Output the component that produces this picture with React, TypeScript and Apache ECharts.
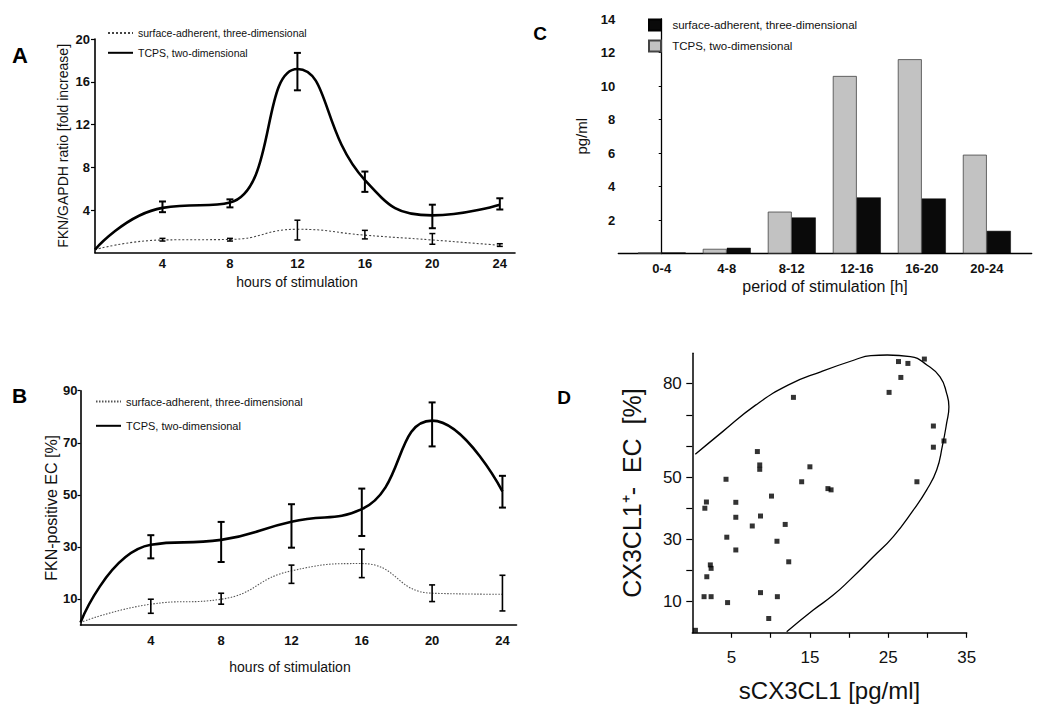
import React, { useEffect, useRef } from "react";
import * as echarts from "echarts";

// ---------- data ----------
const hours = [0, 4, 8, 12, 16, 20, 24];
const errHours = [4, 8, 12, 16, 20, 24];
const hourTicks = [4, 8, 12, 16, 20, 24];

// Panel A: FKN/GAPDH ratio [fold increase]
const aTcps = [0.3, 4.2, 4.7, 17.2, 6.8, 3.5, 4.5];
const aTcpsLow = [3.8, 4.25, 15.2, 5.7, 2.3, 4.05];
const aTcpsHigh = [4.8, 5.0, 18.7, 7.6, 4.5, 5.1];
const aSurf = [0.3, 1.2, 1.25, 2.2, 1.65, 1.2, 0.7];
const aSurfLow = [1.1, 1.1, 1.2, 1.3, 0.8, 0.6];
const aSurfHigh = [1.35, 1.35, 3.05, 2.1, 1.8, 0.85];
const aYTicks = [4, 8, 12, 16, 20];

// Panel B: FKN-positive EC [%]
const bTcps = [1, 30.8, 32.7, 39.7, 44.5, 78.5, 51.3];
const bTcpsLow = [25.6, 24.2, 29.7, 34.2, 68.6, 45.1];
const bTcpsHigh = [34.5, 39.6, 46.4, 52.4, 85.5, 57.3];
const bSurf = [1, 8, 9.9, 20.8, 23.6, 12.2, 11.8];
const bSurfLow = [4.5, 8, 16, 18.2, 9, 5.4];
const bSurfHigh = [9.9, 12.2, 23, 29.1, 15.4, 19.1];
const bYTicks = [10, 30, 50, 70, 90];

// Panel C: pg/ml per period
const periods = ["0-4", "4-8", "8-12", "12-16", "16-20", "20-24"];
const cTcps = [0.06, 0.28, 2.5, 10.6, 11.6, 5.9];
const cSurf = [0.06, 0.34, 2.15, 3.35, 3.28, 1.35];
const cYTicks = [2, 4, 6, 8, 10, 12, 14];

// Panel D: scatter sCX3CL1 vs CX3CL1+ EC
const dX = [0.4, 1.6, 1.8, 1.85, 1.5, 2.4, 2.3, 2.4, 4.3, 4.4, 4.5, 5.55, 5.55, 5.55, 7.65, 8.3, 8.6, 8.6, 8.7, 8.7, 9.75, 10.1, 10.8, 10.85, 11.85, 12.3, 12.9, 13.95, 15.0, 17.3, 17.7, 25.1, 26.3, 26.6, 27.5, 29.6, 28.65, 30.75, 30.75, 32.1];
const dY = [0.8, 40, 42, 18, 11.6, 11.6, 21.8, 20.7, 49.3, 30.7, 9.7, 41.9, 37.1, 26.6, 34.3, 58.2, 53.9, 52.5, 37.5, 12.9, 4.6, 43.9, 29.4, 11.6, 34.8, 22.8, 75.6, 48.5, 53.3, 46.3, 45.9, 77.2, 87.1, 82, 86.5, 87.9, 48.5, 66.4, 59.6, 61.6];
// ellipse outline
const ellX = [0.38, 3.87, 8.07, 12.27, 16.47, 20.67, 22.77, 24.87, 27.82, 29.92, 31.6, 32.44, 32.73, 32.44, 31.9, 31.17, 29.9, 28.19, 25.64, 23.09, 20.11, 17.98, 15.43, 12.04];
const ellY = [57.3, 64.6, 73.1, 79.6, 83.9, 87.6, 89.0, 89.2, 88.7, 86.0, 82.2, 76.9, 72.6, 67.3, 60.0, 52.3, 45.9, 39.4, 30.9, 24.4, 17.0, 12.1, 7.3, 0.35];
const dXTicks = [5, 10, 15, 20, 25, 30, 35];
const dXLabels = [5, 15, 25, 35];
const dYTicks = [10, 20, 30, 40, 50, 60, 70, 80];
const dYLabels = [10, 30, 50, 80];

const legendNames: Record<string, string> = {
  A3d: "surface-adherent, three-dimensional",
  A2d: "TCPS, two-dimensional",
  B3d: "surface-adherent, three-dimensional",
  B2d: "TCPS, two-dimensional",
  C3d: "  surface-adherent, three-dimensional",
  C2d: "  TCPS, two-dimensional",
};

const FONT = '"Liberation Sans", Arial, Helvetica, sans-serif';
const INK = "#111";

function pairs(xs: number[], ys: number[]) {
  return xs.map((x, i) => [x, ys[i]]);
}
function errData(xs: number[], lo: number[], hi: number[]) {
  return xs.map((x, i) => [x, lo[i], hi[i]]);
}
function errSeries(idx: number, data: number[][], lw: number, cap: number) {
  return {
    type: "custom",
    xAxisIndex: idx,
    yAxisIndex: idx,
    data,
    encode: { x: 0, y: [1, 2] },
    z: 5,
    renderItem: (params: any, api: any) => {
      const x = api.value(0);
      const p1 = api.coord([x, api.value(1)]);
      const p2 = api.coord([x, api.value(2)]);
      const st = { stroke: "#000", lineWidth: lw };
      return {
        type: "group",
        children: [
          { type: "line", shape: { x1: p1[0], y1: p1[1], x2: p2[0], y2: p2[1] }, style: st },
          { type: "line", shape: { x1: p1[0] - cap, y1: p1[1], x2: p1[0] + cap, y2: p1[1] }, style: st },
          { type: "line", shape: { x1: p2[0] - cap, y1: p2[1], x2: p2[0] + cap, y2: p2[1] }, style: st },
        ],
      };
    },
  };
}

function hoursAxis(idx: number, max: number, labelMargin: number, nameGap: number, namePad: number) {
  return {
    type: "value",
    gridIndex: idx,
    min: 0,
    max,
    interval: 4,
    splitLine: { show: false },
    axisLine: { show: true, lineStyle: { color: "#000", width: 1.6 } },
    axisTick: { show: false },
    axisLabel: {
      customValues: hourTicks,
      margin: labelMargin,
      color: INK,
      fontFamily: FONT,
      fontSize: 13,
      fontWeight: "bold",
    },
    name: "hours of stimulation",
    nameLocation: "middle",
    nameGap,
    nameTextStyle: { color: INK, fontFamily: FONT, fontSize: 14, padding: [0, namePad, 0, 0] },
  };
}

export default function App() {
  const ref = useRef<HTMLDivElement>(null);

  useEffect(() => {
    if (!ref.current) return;
    const chart = echarts.init(ref.current, undefined, { renderer: "svg" });

    const option: any = {
      animation: false,
      backgroundColor: "#fff",
      textStyle: { fontFamily: FONT },
      grid: [
        { left: 95, top: 39, width: 420, height: 213.8, outerBoundsMode: "none", containLabel: false },
        { left: 80.5, top: 390.7, width: 436, height: 234.3, outerBoundsMode: "none", containLabel: false },
        { left: 618.3, top: 19, width: 413.4, height: 234.5, outerBoundsMode: "none", containLabel: false },
        { left: 692.3, top: 353.3, width: 274.4, height: 279.5, outerBoundsMode: "none", containLabel: false },
      ],
      xAxis: [
        hoursAxis(0, 24.9, 4.5, 22, 16),
        hoursAxis(1, 24.8, 8.5, 35, 17),
        {
          type: "value",
          gridIndex: 2,
          min: -0.668,
          max: 5.69,
          splitLine: { show: false },
          axisLine: { show: true, lineStyle: { color: "#000", width: 1.3 } },
          axisTick: { show: false },
          axisLabel: {
            customValues: [0, 1, 2, 3, 4, 5],
            formatter: (v: number) => periods[Math.round(v)] ?? "",
            margin: 8,
            color: INK,
            fontFamily: FONT,
            fontSize: 13,
            fontWeight: "bold",
          },
          name: "period of stimulation [h]",
          nameLocation: "middle",
          nameGap: 25,
          nameTextStyle: { color: INK, fontFamily: FONT, fontSize: 16 },
        },
        {
          type: "value",
          gridIndex: 3,
          min: 0,
          max: 35,
          interval: 5,
          splitLine: { show: false },
          axisLine: { show: true, lineStyle: { color: "#000", width: 1.5 } },
          axisTick: { show: true, customValues: dXTicks, length: 5, lineStyle: { color: "#000", width: 1.2 } },
          axisLabel: {
            customValues: dXLabels,
            margin: 16,
            color: INK,
            fontFamily: FONT,
            fontSize: 17,
          },
          name: "sCX3CL1 [pg/ml]",
          nameLocation: "middle",
          nameGap: 46,
          nameTextStyle: { color: INK, fontFamily: FONT, fontSize: 24 },
        },
      ],
      yAxis: [
        {
          type: "value",
          gridIndex: 0,
          min: 0,
          max: 20,
          interval: 4,
          splitLine: { show: false },
          axisLine: { show: true, lineStyle: { color: "#000", width: 1.6 } },
          axisTick: { show: true, customValues: aYTicks, length: 4, lineStyle: { color: "#000", width: 1.2 } },
          axisLabel: {
            customValues: aYTicks,
            margin: 5,
            color: INK,
            fontFamily: FONT,
            fontSize: 13,
            fontWeight: "bold",
          },
          name: "FKN/GAPDH ratio [fold increase]",
          nameLocation: "middle",
          nameGap: 25,
          nameTextStyle: { color: INK, fontFamily: FONT, fontSize: 14 },
        },
        {
          type: "value",
          gridIndex: 1,
          min: 0,
          max: 90,
          interval: 10,
          splitLine: { show: false },
          axisLine: { show: true, lineStyle: { color: "#000", width: 1.6 } },
          axisTick: { show: true, customValues: bYTicks, length: 3, lineStyle: { color: "#000", width: 1.2 } },
          axisLabel: {
            customValues: bYTicks,
            margin: 3,
            color: INK,
            fontFamily: FONT,
            fontSize: 13,
            fontWeight: "bold",
          },
          name: "FKN-positive EC [%]",
          nameLocation: "middle",
          nameGap: 17.5,
          nameTextStyle: { color: INK, fontFamily: FONT, fontSize: 16 },
        },
        {
          type: "value",
          gridIndex: 2,
          min: 0,
          max: 14,
          interval: 2,
          splitLine: { show: false },
          axisLine: { show: true, lineStyle: { color: "#000", width: 1.3 } },
          axisTick: { show: true, customValues: cYTicks, length: 3, lineStyle: { color: "#000", width: 1 } },
          axisLabel: {
            customValues: cYTicks,
            margin: 3,
            color: INK,
            fontFamily: FONT,
            fontSize: 13,
            fontWeight: "bold",
          },
          name: "pg/ml",
          nameLocation: "middle",
          nameGap: 29,
          nameTextStyle: { color: INK, fontFamily: FONT, fontSize: 15 },
        },
        {
          type: "value",
          gridIndex: 3,
          min: 0,
          max: 89.75,
          splitLine: { show: false },
          axisLine: { show: true, lineStyle: { color: "#000", width: 1.5 } },
          axisTick: { show: true, customValues: dYTicks, length: 6, lineStyle: { color: "#000", width: 1.2 } },
          axisLabel: {
            customValues: dYLabels,
            margin: 10.5,
            color: INK,
            fontFamily: FONT,
            fontSize: 17,
          },
          name: "CX3CL1\u207A-  EC  [%]",
          nameLocation: "middle",
          nameGap: 48,
          nameTextStyle: { color: INK, fontFamily: FONT, fontSize: 25 },
        },
      ],
      legend: [
        {
          data: ["A3d", "A2d"],
          left: 107,
          top: 27.5,
          padding: 0,
          orient: "vertical",
          itemWidth: 25,
          itemHeight: 14,
          itemGap: 8.5,
          selectedMode: false,
          itemStyle: { opacity: 0 },
          formatter: (n: string) => legendNames[n],
          textStyle: { color: INK, fontFamily: FONT, fontSize: 10.5 },
        },
        {
          data: ["B3d", "B2d"],
          left: 95,
          top: 396,
          padding: 0,
          orient: "vertical",
          itemWidth: 25,
          itemHeight: 14,
          itemGap: 13,
          selectedMode: false,
          itemStyle: { opacity: 0 },
          formatter: (n: string) => legendNames[n],
          textStyle: { color: INK, fontFamily: FONT, fontSize: 11 },
        },
        {
          data: [
            { name: "C3d", icon: "rect" },
            { name: "C2d", icon: "rect" },
          ],
          left: 648,
          top: 18.5,
          padding: 0,
          orient: "vertical",
          itemWidth: 12,
          itemHeight: 11,
          itemGap: 8,
          selectedMode: false,
          formatter: (n: string) => legendNames[n],
          textStyle: { color: INK, fontFamily: FONT, fontSize: 11.5 },
        },
      ],
      series: [
        // Panel A
        {
          name: "A3d",
          type: "line",
          xAxisIndex: 0,
          yAxisIndex: 0,
          data: pairs(hours, aSurf),
          smooth: 0.5,
          symbol: "none",
          lineStyle: { color: "#444", width: 1.1, type: [2, 2] },
          itemStyle: { color: "#444" },
        },
        {
          name: "A2d",
          type: "line",
          xAxisIndex: 0,
          yAxisIndex: 0,
          data: pairs(hours, aTcps),
          smooth: 0.5,
          symbol: "none",
          lineStyle: { color: "#000", width: 2.6 },
          itemStyle: { color: "#000" },
        },
        errSeries(0, errData(errHours, aSurfLow, aSurfHigh), 1.5, 3),
        errSeries(0, errData(errHours, aTcpsLow, aTcpsHigh), 2, 3.5),
        // Panel B
        {
          name: "B3d",
          type: "line",
          xAxisIndex: 1,
          yAxisIndex: 1,
          data: pairs(hours, bSurf),
          smooth: 0.5,
          symbol: "none",
          lineStyle: { color: "#555", width: 1.1, type: [1.5, 1.5] },
          itemStyle: { color: "#555" },
        },
        {
          name: "B2d",
          type: "line",
          xAxisIndex: 1,
          yAxisIndex: 1,
          data: pairs(hours, bTcps),
          smooth: 0.5,
          symbol: "none",
          lineStyle: { color: "#000", width: 2.6 },
          itemStyle: { color: "#000" },
        },
        errSeries(1, errData(errHours, bSurfLow, bSurfHigh), 1.6, 3),
        errSeries(1, errData(errHours, bTcpsLow, bTcpsHigh), 2, 3.5),
        // Panel C
        {
          name: "C2d",
          type: "bar",
          xAxisIndex: 2,
          yAxisIndex: 2,
          data: periods.map((_, i) => [i, cTcps[i]]),
          barWidth: 24,
          barGap: "0%",
          itemStyle: { color: "#c2c2c2", borderColor: "#444", borderWidth: 0.8 },
        },
        {
          name: "C3d",
          type: "bar",
          xAxisIndex: 2,
          yAxisIndex: 2,
          data: periods.map((_, i) => [i, cSurf[i]]),
          barWidth: 24,
          barGap: "0%",
          itemStyle: { color: "#0a0a0a", borderColor: "#000", borderWidth: 0.5 },
        },
        // Panel D
        {
          name: "ellipse",
          type: "line",
          xAxisIndex: 3,
          yAxisIndex: 3,
          data: pairs(ellX, ellY),
          smooth: 0.5,
          symbol: "none",
          lineStyle: { color: "#000", width: 1.3 },
          z: 2,
        },
        {
          name: "points",
          type: "scatter",
          xAxisIndex: 3,
          yAxisIndex: 3,
          data: pairs(dX, dY),
          symbol: "rect",
          symbolSize: 5,
          itemStyle: { color: "#000" },
          z: 3,
        },
      ],
      graphic: [
        { type: "text", x: 20, y: 55, style: { text: "A", font: `bold 22px ${FONT}`, fill: "#000", textAlign: "center", textVerticalAlign: "middle" } },
        { type: "text", x: 19.5, y: 395, style: { text: "B", font: `bold 21px ${FONT}`, fill: "#000", textAlign: "center", textVerticalAlign: "middle" } },
        { type: "text", x: 540, y: 33.5, style: { text: "C", font: `bold 19px ${FONT}`, fill: "#000", textAlign: "center", textVerticalAlign: "middle" } },
        { type: "text", x: 564, y: 397, style: { text: "D", font: `bold 19px ${FONT}`, fill: "#000", textAlign: "center", textVerticalAlign: "middle" } },
      ],
    };

    chart.setOption(option);
    return () => chart.dispose();
  }, []);

  return (
    <div
      ref={ref}
      style={{ position: "fixed", left: 0, top: 0, width: 1050, height: 715, background: "#fff" }}
    />
  );
}
